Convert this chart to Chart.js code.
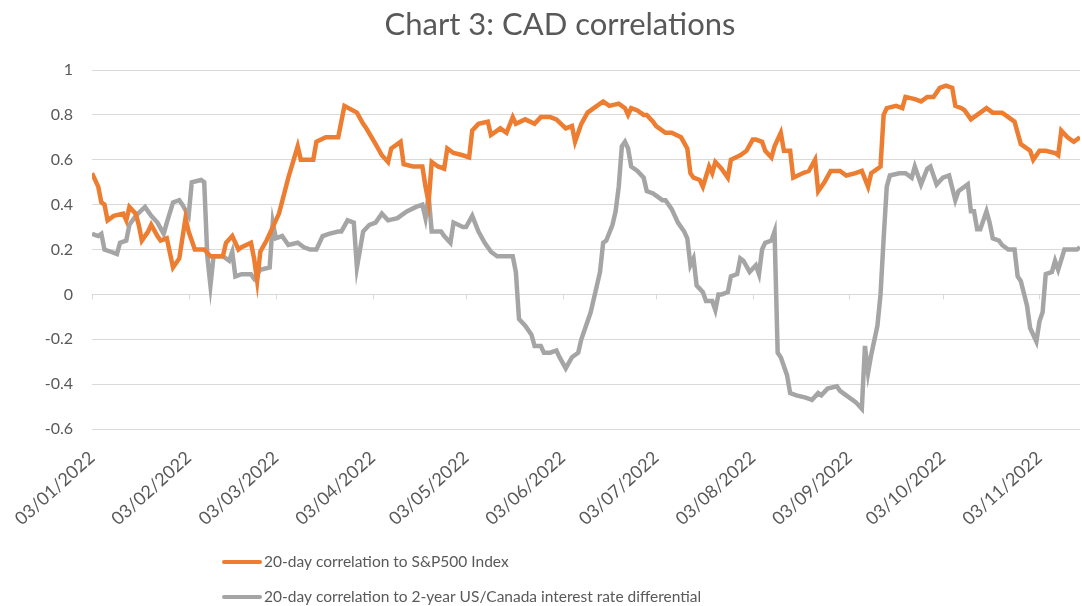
<!DOCTYPE html>
<html>
<head>
<meta charset="utf-8">
<script src="https://cdn.jsdelivr.net/npm/chart.js@4.4.1/dist/chart.umd.min.js"></script>
<style>
  html,body{margin:0;padding:0;background:#fff;}
  #wrap{width:1082px;height:606px;}
</style>
</head>
<body>
<div id="wrap"><canvas id="c" width="1082" height="606"></canvas></div>
<script>
const chartTitle = 'Chart 3: CAD correlations';
const tickLabels = ['03/01/2022','03/02/2022','03/03/2022','03/04/2022','03/05/2022','03/06/2022','03/07/2022','03/08/2022','03/09/2022','03/10/2022','03/11/2022'];
const seriesNames = ['20-day correlation to S&P500 Index', '20-day correlation to 2-year US/Canada interest rate differential'];

// days since 03/01/2022
const spxDays = [0,2,3,4,5,7,10,11,12,14,15,16,18,19,21,22,24,26,28,30,31,33,36,38,42,43,45,47,48,51,52,53,54,56,59,60,63,66,67,71,72,75,78,79,81,85,87,88,91,93,95,96,99,100,103,106,107,108,109,111,113,114,116,119,121,122,124,127,128,131,133,135,136,139,142,144,147,149,152,154,155,157,159,161,164,166,169,171,172,173,175,177,178,180,181,184,186,189,191,192,193,195,196,198,199,200,202,204,205,208,210,212,213,215,216,218,219,221,222,224,225,228,230,232,233,235,237,239,240,242,245,247,249,250,253,254,255,258,260,261,264,266,268,270,272,274,276,277,279,280,282,285,287,289,292,294,296,297,298,301,302,304,306,309,310,311,313,315,317];
const spxCorr = [0.54,0.48,0.41,0.40,0.33,0.35,0.36,0.33,0.39,0.36,0.31,0.24,0.28,0.31,0.26,0.24,0.25,0.12,0.16,0.34,0.28,0.20,0.20,0.17,0.17,0.23,0.26,0.20,0.21,0.23,0.16,0.06,0.19,0.24,0.33,0.36,0.52,0.66,0.60,0.60,0.68,0.70,0.70,0.70,0.84,0.81,0.76,0.74,0.67,0.62,0.59,0.65,0.68,0.58,0.57,0.57,0.48,0.41,0.59,0.57,0.56,0.65,0.63,0.62,0.61,0.73,0.76,0.77,0.71,0.74,0.72,0.79,0.76,0.78,0.76,0.79,0.79,0.78,0.74,0.75,0.68,0.76,0.81,0.83,0.86,0.84,0.85,0.83,0.80,0.83,0.82,0.80,0.80,0.77,0.75,0.72,0.72,0.70,0.65,0.54,0.52,0.51,0.48,0.57,0.54,0.59,0.56,0.52,0.60,0.62,0.64,0.69,0.69,0.68,0.64,0.61,0.66,0.72,0.64,0.64,0.52,0.54,0.55,0.60,0.46,0.50,0.55,0.55,0.55,0.53,0.54,0.55,0.48,0.54,0.57,0.80,0.83,0.84,0.83,0.88,0.87,0.86,0.88,0.88,0.92,0.93,0.92,0.84,0.83,0.82,0.78,0.81,0.83,0.81,0.81,0.79,0.77,0.72,0.67,0.64,0.60,0.64,0.64,0.63,0.62,0.73,0.70,0.68,0.70];

const rateDays = [0,2,3,4,6,8,9,11,12,14,17,19,21,23,24,26,28,29,31,32,35,36,37,38,39,40,42,44,45,46,48,51,52,54,57,58,59,61,63,66,68,70,72,74,76,79,80,82,84,85,87,89,91,93,95,98,99,101,104,106,107,108,109,112,113,115,116,119,120,122,124,126,128,130,135,136,137,139,141,142,144,145,147,149,150,152,154,156,157,160,162,163,164,165,167,168,169,170,171,172,173,175,177,178,180,181,183,184,186,188,190,191,192,193,194,196,197,199,200,201,202,204,205,207,208,209,211,213,214,215,216,218,219,220,221,223,224,226,229,231,233,234,236,239,240,242,245,247,248,249,250,252,253,254,255,256,259,261,263,264,265,266,268,269,271,273,275,277,278,280,281,282,283,284,285,287,288,289,291,292,294,296,297,298,300,301,303,304,305,306,308,309,310,312,314,316,317];
const rateCorr = [0.27,0.26,0.27,0.20,0.19,0.18,0.23,0.24,0.31,0.35,0.39,0.35,0.32,0.27,0.32,0.41,0.42,0.40,0.35,0.50,0.51,0.50,0.17,0.04,0.17,0.17,0.17,0.15,0.19,0.08,0.09,0.09,0.07,0.11,0.12,0.32,0.25,0.26,0.22,0.23,0.21,0.20,0.20,0.26,0.27,0.28,0.28,0.33,0.32,0.12,0.28,0.31,0.32,0.36,0.33,0.34,0.35,0.37,0.39,0.40,0.34,0.44,0.28,0.28,0.26,0.23,0.32,0.30,0.30,0.35,0.28,0.23,0.19,0.17,0.17,0.10,-0.11,-0.14,-0.18,-0.23,-0.23,-0.26,-0.26,-0.25,-0.28,-0.33,-0.28,-0.26,-0.20,-0.08,0.04,0.10,0.23,0.24,0.31,0.37,0.48,0.66,0.68,0.65,0.57,0.55,0.52,0.46,0.45,0.44,0.42,0.42,0.38,0.32,0.28,0.25,0.13,0.16,0.04,0.01,-0.03,-0.03,-0.07,0.00,0.00,0.01,0.08,0.09,0.16,0.15,0.10,0.13,0.09,0.20,0.23,0.24,0.28,-0.26,-0.28,-0.36,-0.44,-0.45,-0.46,-0.47,-0.44,-0.45,-0.42,-0.41,-0.43,-0.45,-0.48,-0.51,-0.23,-0.35,-0.27,-0.14,0.00,0.25,0.48,0.53,0.54,0.54,0.52,0.57,0.53,0.49,0.56,0.57,0.49,0.52,0.53,0.42,0.46,0.48,0.49,0.37,0.37,0.29,0.29,0.37,0.32,0.25,0.24,0.22,0.20,0.20,0.08,0.06,-0.05,-0.15,-0.21,-0.12,-0.08,0.09,0.10,0.15,0.11,0.20,0.20,0.20,0.21];

const FONT = 'Lato, "Open Sans", sans-serif';
const TXT = '#595959';

function dayOffset(lbl){
  const p = lbl.split('/');
  const t = Date.UTC(+p[2], +p[1]-1, +p[0]);
  const p0 = tickLabels[0].split('/');
  return Math.round((t - Date.UTC(+p0[2], +p0[1]-1, +p0[0])) / 86400000);
}
const tickDays = tickLabels.map(dayOffset);

// title, legend and the little tick marks on the zero line
const decor = {
  id:'decor',
  afterDraw(chart){
    const ctx = chart.ctx;
    ctx.save();
    ctx.fillStyle = TXT;
    ctx.font = '31px ' + FONT;
    ctx.textAlign = 'center'; ctx.textBaseline = 'middle';
    ctx.fillText(chartTitle, 560, 25);

    const xs = chart.scales.x, ys = chart.scales.y;
    const y0 = ys.getPixelForValue(0);
    ctx.strokeStyle = '#d9d9d9'; ctx.lineWidth = 1;
    tickDays.forEach(d=>{
      const x = Math.round(xs.getPixelForValue(d)) + 0.5;
      ctx.beginPath(); ctx.moveTo(x, y0); ctx.lineTo(x, y0 + 5); ctx.stroke();
    });

    const rows = [562, 597];
    ctx.font = '15.5px ' + FONT;
    ctx.textAlign = 'left';
    chart.data.datasets.forEach((ds,i)=>{
      ctx.strokeStyle = ds.borderColor; ctx.lineWidth = 4; ctx.lineCap = 'round';
      ctx.beginPath(); ctx.moveTo(224, rows[i]); ctx.lineTo(260, rows[i]); ctx.stroke();
      ctx.fillStyle = TXT;
      ctx.fillText(ds.label, 264, rows[i]);
    });
    ctx.restore();
  }
};

const ctx = document.getElementById('c').getContext('2d');
new Chart(ctx, {
  type:'line',
  data:{
    datasets:[
      {label:seriesNames[0], data:spxDays.map((d,i)=>({x:d, y:spxCorr[i]})), borderColor:'#ED7D31', borderWidth:4.5, pointRadius:0, tension:0, fill:false},
      {label:seriesNames[1], data:rateDays.map((d,i)=>({x:d, y:rateCorr[i]})), borderColor:'#A5A5A5', borderWidth:4.5, pointRadius:0, tension:0, fill:false}
    ]
  },
  options:{
    responsive:false, animation:false,
    layout:{padding:{top:70, bottom:77, left:0, right:2}},
    plugins:{legend:{display:false}, title:{display:false}, tooltip:{enabled:false}},
    scales:{
      x:{
        type:'linear', min:0, max:317,
        grid:{display:false}, border:{display:false},
        afterBuildTicks:(s)=>{ s.ticks = tickDays.map(v=>({value:v})); },
        afterFit:(s)=>{ s.height = 100; },
        ticks:{autoSkip:false, minRotation:42, maxRotation:42, padding:10, color:TXT, font:{family:FONT, size:18},
          callback:(v,i)=>tickLabels[i]}
      },
      y:{
        min:-0.6, max:1,
        grid:{color:'#d9d9d9', lineWidth:1, drawTicks:false}, border:{display:false},
        afterFit:(s)=>{ s.width = 92; },
        ticks:{stepSize:0.2, padding:19, color:TXT, font:{family:FONT, size:16},
          callback:(v)=>String(Math.round(v*10)/10)}
      }
    }
  },
  plugins:[decor]
});
</script>
</body>
</html>
